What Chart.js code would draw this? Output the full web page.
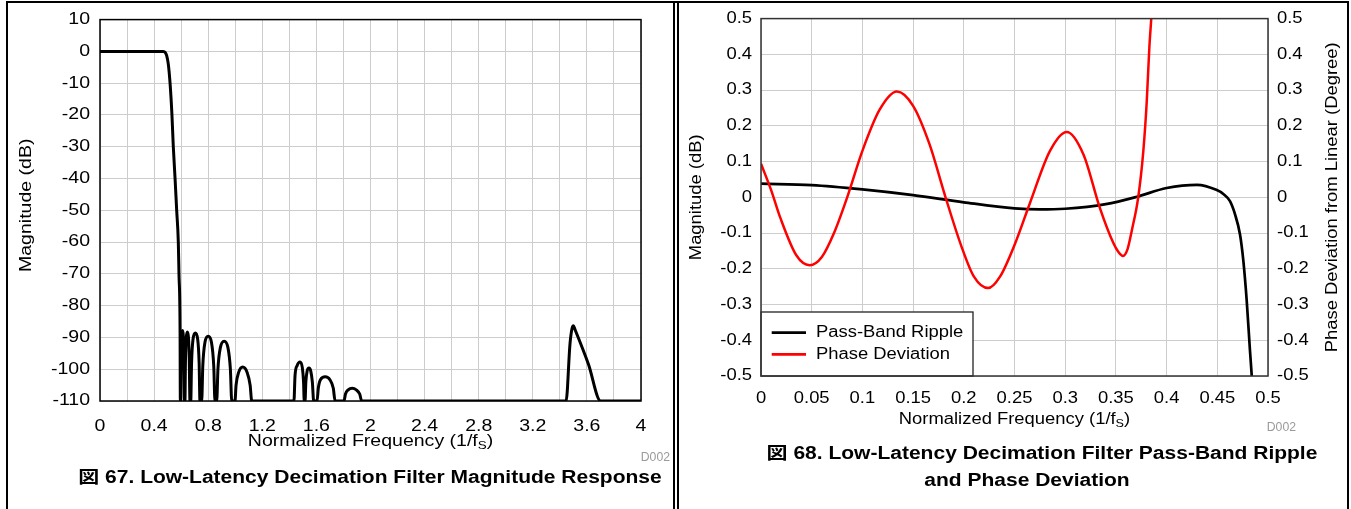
<!DOCTYPE html>
<html>
<head>
<meta charset="utf-8">
<title>Low-Latency Decimation Filter</title>
<script src="https://cdn.jsdelivr.net/npm/chart.js@4.4.0/dist/chart.umd.min.js"></script>
<style>
	body { margin:0; width:1351px; height:509px; background:#fff; position:relative; overflow:hidden;
		font-family:"Liberation Sans", Arial, "Noto Sans CJK JP", sans-serif; }
	canvas { position:absolute; top:0; }
	.linea { position:absolute; background:#000; }
	.pie { position:absolute; width:700px; text-align:center; font-weight:bold; font-size:17.5px;
		line-height:20px; white-space:nowrap; transform:scaleX(1.2); color:#000; }
</style>
</head>
<body>
<canvas id="graficoMagnitud" width="675" height="470" style="left:0"></canvas>
<canvas id="graficoRipple" width="674" height="470" style="left:677px"></canvas>

<div class="linea" style="left:6px;top:1px;width:1343px;height:1.5px"></div>
<div class="linea" style="left:6px;top:1px;width:1.5px;height:508px"></div>
<div class="linea" style="left:673px;top:1px;width:1.5px;height:508px"></div>
<div class="linea" style="left:677px;top:1px;width:1.5px;height:508px"></div>
<div class="linea" style="left:1347px;top:1px;width:1.5px;height:508px"></div>

<div class="pie" style="left:20px;top:467px">図 67. Low-Latency Decimation Filter Magnitude Response</div>
<div class="pie" style="left:692px;top:443px">図 68. Low-Latency Decimation Filter Pass-Band Ripple</div>
<div class="pie" style="left:677px;top:470px">and Phase Deviation</div>

<script>
	// ===== Datos gráfico izquierdo: respuesta en magnitud =====
	// frecuencia normalizada (1/fs) y magnitud en dB
	const frecMagnitud = [
		0, 0.1, 0.2, 0.3, 0.4, 0.468, 0.482, 0.493, 0.505, 0.518, 0.532, 0.542, 0.555, 0.567, 0.579, 0.584, 0.592, 0.594,
		0.597, 0.601, 0.606, 0.611, 0.616, 0.621, 0.625,
		0.628, 0.632, 0.638, 0.646, 0.654, 0.660, 0.665,
		0.671, 0.677, 0.688, 0.705, 0.722, 0.733, 0.739,
		0.752, 0.760, 0.776, 0.800, 0.824, 0.841, 0.850,
		0.863, 0.872, 0.890, 0.918, 0.946, 0.964, 0.974,
		0.998, 1.006, 1.025, 1.055, 1.088, 1.110, 1.122,
		1.434, 1.442, 1.458, 1.479, 1.496, 1.505, 1.510,
		1.516, 1.522, 1.532, 1.545, 1.558, 1.570, 1.580,
		1.605, 1.614, 1.630, 1.665, 1.700, 1.725, 1.738,
		1.804, 1.815, 1.835, 1.865, 1.895, 1.920, 1.935,
		3.446, 3.475, 3.490, 3.500, 3.512, 3.612, 3.702,
		4
	]
	const magnitudDb = [
		0, 0, 0, 0, 0, 0, -0.3, -1.35, -4, -10, -20, -30, -40, -50, -60, -70, -88, -110,
		-110, -96, -89.5, -87.8, -89.5, -96, -110,
		-110, -97, -90, -88.3, -90, -97, -110,
		-110, -98, -90.5, -88.6, -90.5, -98, -110,
		-110, -99, -91.5, -89.6, -91.5, -99, -110,
		-110, -100, -93.2, -91.2, -93.2, -100, -110,
		-110, -105, -101, -99.3, -101, -105, -110,
		-110, -102, -98.8, -97.7, -99.5, -104, -110,
		-110, -104, -100.5, -99.6, -100.5, -104, -110,
		-110, -106, -103.3, -102.4, -103.3, -106, -110,
		-110, -107.8, -106.5, -106, -106.5, -107.8, -110,
		-110, -92, -87.2, -86.3, -87.5, -98.5, -110,
		-110
	]
	const etiquetasFrecIzq = ['0', '0.4', '0.8', '1.2', '1.6', '2', '2.4', '2.8', '3.2', '3.6', '4']
	const etiquetasDbIzq = ['10', '0', '-10', '-20', '-30', '-40', '-50', '-60', '-70', '-80', '-90', '-100', '-110']

	// ===== Datos gráfico derecho: ripple de banda de paso y desviación de fase =====
	const frecRipple = [0, 0.05, 0.1, 0.15, 0.2, 0.25, 0.275, 0.3, 0.34, 0.37, 0.4, 0.43, 0.449, 0.456, 0.4625, 0.4675, 0.4724, 0.4757, 0.479, 0.4822, 0.4839, 0.486]
	const rippleDb = [0.038, 0.034, 0.022, 0.006, -0.014, -0.031, -0.034, -0.032, -0.019, 0.001, 0.026, 0.035, 0.021, 0.009, -0.011, -0.048, -0.104, -0.178, -0.289, -0.428, -0.497, -0.6]

	const frecFase = [0, 0.01, 0.019, 0.035, 0.048, 0.06, 0.072, 0.085, 0.1, 0.117, 0.134, 0.15, 0.166, 0.182, 0.198, 0.21, 0.224, 0.2357, 0.2505, 0.265, 0.285, 0.3015, 0.318, 0.334, 0.3475, 0.3525, 0.357, 0.3615, 0.3656, 0.372, 0.377, 0.3804, 0.383, 0.3853, 0.387]
	const faseGrados = [0.094, 0.02, -0.057, -0.163, -0.19, -0.167, -0.1, 0, 0.13, 0.245, 0.296, 0.256, 0.15, 0, -0.14, -0.222, -0.254, -0.222, -0.13, -0.018, 0.13, 0.183, 0.12, -0.028, -0.128, -0.153, -0.164, -0.145, -0.094, 0, 0.128, 0.267, 0.42, 0.52, 0.62]

	const etiquetasFrecDer = ['0', '0.05', '0.1', '0.15', '0.2', '0.25', '0.3', '0.35', '0.4', '0.45', '0.5']
	const etiquetasEjeDer = ['0.5', '0.4', '0.3', '0.2', '0.1', '0', '-0.1', '-0.2', '-0.3', '-0.4', '-0.5']

	const nombresSeries = ['Pass-Band Ripple', 'Phase Deviation']

	Chart.defaults.font.family = "'Liberation Sans', Arial, sans-serif"
	Chart.defaults.font.size = 16
	Chart.defaults.color = '#000'

	// arma los puntos {x,y} a partir de dos vectores
	function puntos(xs, ys) {
		return xs.map((x, i) => ({ x: x, y: ys[i] }))
	}

	// devuelve la etiqueta solo si esta en la lista (la grilla se mantiene)
	function etiqueta(lista, decimales) {
		return function (v) {
			const t = String(Math.round(v * decimales) / decimales)
			return lista.includes(t) ? t : ''
		}
	}

	// texto con subindice para el titulo del eje x
	function tituloX(ctx, cx, cy, k) {
		const partes = [['Normalized Frequency (1/f', 16, 0], ['S', 11, 4], [')', 16, 0]]
		let total = 0
		partes.forEach(p => { ctx.font = p[1] + "px 'Liberation Sans', Arial"; p.push(ctx.measureText(p[0]).width) ; total += p[3] * k })
		let x = cx - total / 2
		ctx.textAlign = 'left'
		ctx.textBaseline = 'middle'
		partes.forEach(p => {
			ctx.font = p[1] + "px 'Liberation Sans', Arial"
			ctx.fillText(p[0], x, cy + p[2])
			x += p[3] * k
		})
	}

	function textoVertical(ctx, txt, x, y) {
		ctx.save()
		ctx.translate(x, y)
		ctx.rotate(-Math.PI / 2)
		ctx.textAlign = 'center'
		ctx.textBaseline = 'middle'
		ctx.font = "16px 'Liberation Sans', Arial"
		ctx.fillText(txt, 0, 0)
		ctx.restore()
	}

	// plugin: estira el texto, dibuja marco, titulos, leyenda y codigo D002
	const pluginRotulos = {
		id: 'rotulos',
		beforeInit(chart) {
			const ctx = chart.ctx
			const original = ctx.fillText
			const k = chart.config.options.plugins.rotulos.k
			ctx.fillText = function (txt, x, y, maxAncho) {
				const kk = ctx._k || k
				ctx.save()
				ctx.translate(x, y)
				ctx.scale(kk, 1)
				if (maxAncho !== undefined) original.call(ctx, txt, 0, 0, maxAncho / kk)
				else original.call(ctx, txt, 0, 0)
				ctx.restore()
			}
		},
		afterDatasetsDraw(chart, args, op) {
			const ctx = chart.ctx
			const a = chart.chartArea
			ctx.save()
			if (op.leyenda) {
				const x0 = a.left, y0 = a.bottom - 64
				ctx.fillStyle = '#fff'
				ctx.fillRect(x0, y0, 212, 64)
				ctx.strokeStyle = '#222'
				ctx.lineWidth = 1.3
				ctx.strokeRect(x0, y0, 212, 64)
				chart.data.datasets.forEach((ds, i) => {
					const y = y0 + 20.7 + i * 21.6
					ctx.strokeStyle = ds.borderColor
					ctx.lineWidth = 2.7
					ctx.beginPath()
					ctx.moveTo(x0 + 10.7, y)
					ctx.lineTo(x0 + 45, y)
					ctx.stroke()
					ctx.fillStyle = '#000'
					ctx.font = "16px 'Liberation Sans', Arial"
					ctx.textAlign = 'left'
					ctx.textBaseline = 'middle'
					ctx.fillText(ds.label, x0 + 55, y)
				})
			}
			ctx.strokeStyle = op.colorMarco
			ctx.lineWidth = 1.5
			ctx.strokeRect(a.left, a.top, a.right - a.left, a.bottom - a.top)
			ctx.restore()
		},
		afterDraw(chart, args, op) {
			const ctx = chart.ctx
			const a = chart.chartArea
			const medioY = (a.top + a.bottom) / 2
			ctx.save()
			ctx.fillStyle = '#000'
			textoVertical(ctx, op.tituloIzq, a.left - op.sepIzq, medioY + op.corrY)
			if (op.tituloDer) textoVertical(ctx, op.tituloDer, a.right + op.sepDer, medioY)
			tituloX(ctx, (a.left + a.right) / 2, a.bottom + op.sepX, op.k)
			// codigo de figura en gris
			ctx._k = 1.02
			ctx.fillStyle = '#9a9a9a'
			ctx.font = "12px 'Liberation Sans', Arial"
			ctx.textAlign = 'right'
			ctx.textBaseline = 'middle'
			ctx.fillText('D002', a.right + op.codX, a.bottom + op.codY)
			ctx._k = 0
			ctx.restore()
		}
	}

	const grilla = { color: '#cdcdcd', lineWidth: 1, drawTicks: false }

	// ===== Grafico izquierdo =====
	new Chart(document.querySelector('#graficoMagnitud'), {
		type: 'line',
		data: {
			datasets: [{
				data: puntos(frecMagnitud, magnitudDb),
				borderColor: '#000',
				borderWidth: 3,
				pointRadius: 0,
				cubicInterpolationMode: 'monotone'
			}]
		},
		options: {
			responsive: false,
			animation: false,
			devicePixelRatio: 1,
			layout: { padding: { top: 17, right: 34, left: 0, bottom: 0 } },
			plugins: {
				legend: { display: false },
				tooltip: { enabled: false },
				rotulos: { k: 1.22, colorMarco: '#000', tituloIzq: 'Magnitude (dB)', sepIzq: 73, corrY: -5, sepX: 41, codX: 29, codY: 56.5, leyenda: false }
			},
			scales: {
				x: {
					type: 'linear', min: 0, max: 4,
					grid: grilla, border: { display: false },
					ticks: { stepSize: 0.2, autoSkip: false, maxRotation: 0, padding: 16, callback: etiqueta(etiquetasFrecIzq, 10) },
					afterFit: s => { s.height = 69 }
				},
				y: {
					min: -110, max: 10,
					grid: grilla, border: { display: false },
					ticks: { stepSize: 10, padding: 10, callback: etiqueta(etiquetasDbIzq, 1) },
					afterFit: s => { s.width = 100 }
				}
			}
		},
		plugins: [pluginRotulos]
	})

	// ===== Grafico derecho =====
	new Chart(document.querySelector('#graficoRipple'), {
		type: 'line',
		data: {
			datasets: [{
				label: nombresSeries[0],
				data: puntos(frecRipple, rippleDb),
				borderColor: '#000',
				borderWidth: 2.7,
				pointRadius: 0,
				cubicInterpolationMode: 'monotone',
				clip: 0,
				yAxisID: 'y',
				order: 1
			}, {
				label: nombresSeries[1],
				data: puntos(frecFase, faseGrados),
				borderColor: '#ff0000',
				borderWidth: 2.5,
				pointRadius: 0,
				cubicInterpolationMode: 'monotone',
				clip: 0,
				yAxisID: 'y1',
				order: 0
			}]
		},
		options: {
			responsive: false,
			animation: false,
			devicePixelRatio: 1,
			layout: { padding: { top: 16, right: 0, left: 0, bottom: 0 } },
			plugins: {
				legend: { display: false },
				tooltip: { enabled: false },
				rotulos: { k: 1.15, colorMarco: '#333', tituloIzq: 'Magnitude (dB)', tituloDer: 'Phase Deviation from Linear (Degree)',
					sepIzq: 64, sepDer: 65, corrY: 0, sepX: 44, codX: 28, codY: 52, leyenda: true }
			},
			scales: {
				x: {
					type: 'linear', min: 0, max: 0.5,
					grid: grilla, border: { display: false },
					ticks: { stepSize: 0.05, autoSkip: false, maxRotation: 0, padding: 13, callback: etiqueta(etiquetasFrecDer, 100) },
					afterFit: s => { s.height = 94 }
				},
				y: {
					min: -0.5, max: 0.5, position: 'left',
					grid: grilla, border: { display: false },
					ticks: { stepSize: 0.1, padding: 9, callback: etiqueta(etiquetasEjeDer, 10) },
					afterFit: s => { s.width = 84 }
				},
				y1: {
					min: -0.5, max: 0.5, position: 'right',
					grid: { drawOnChartArea: false, drawTicks: false }, border: { display: false },
					ticks: { stepSize: 0.1, padding: 9, callback: etiqueta(etiquetasEjeDer, 10) },
					afterFit: s => { s.width = 83 }
				}
			}
		},
		plugins: [pluginRotulos]
	})
</script>
</body>
</html>
